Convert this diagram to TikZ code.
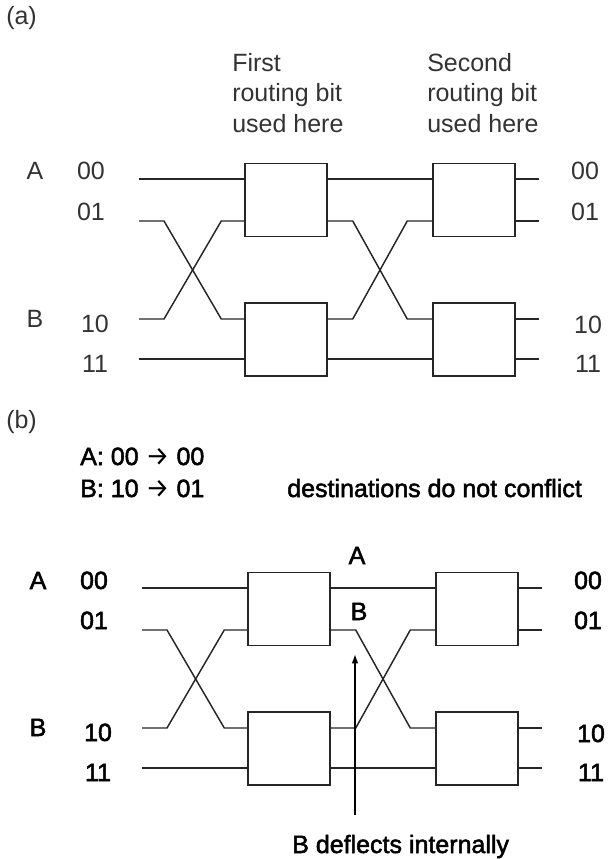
\documentclass[tikz,border=0pt]{standalone}
\usepackage{fontspec}
\setmainfont{Liberation Sans}
\newfontfamily\heavyfam[FakeBold=2]{Liberation Sans}
\newfontfamily\arrowfam{Fira Sans}
\usetikzlibrary{arrows.meta,calc}
\newcommand\lightfont{\fontsize{18.75}{22}\selectfont\color{black!80}}
\newcommand\heavyfont{\heavyfam\fontsize{18.75}{22}\selectfont}
\newcommand\rarr{{\arrowfam\fontsize{20}{22}\selectfont →}}
% #1 name prefix, #2 shift, #3 font
\newcommand\netdraw[3]{%
\begin{scope}[shift={#2}]
  \node[swbox] (#1s1) at (286,200) {};
  \node[swbox] (#1s2) at (286,339.5) {};
  \node[swbox] (#1s3) at (474,200) {};
  \node[swbox] (#1s4) at (474,339.5) {};
  \coordinate (#1i0) at (139,179);
  \coordinate (#1i1) at (139,221);
  \coordinate (#1i2) at (139,319);
  \coordinate (#1i3) at (139,359);
  \coordinate (#1o0) at (539,179);
  \coordinate (#1o1) at (539,221);
  \coordinate (#1o2) at (539,319);
  \coordinate (#1o3) at (539,359);
  % stage 1 inputs
  \draw[wire] (#1i0) -- (#1s1.west |- #1i0);
  \draw[wire] (#1i1) -- ++(25,0) -- ($(#1s2.west |- #1i2)+(-23,0)$) -- (#1s2.west |- #1i2);
  \draw[wire] (#1i2) -- ++(25,0) -- ($(#1s1.west |- #1i1)+(-23,0)$) -- (#1s1.west |- #1i1);
  \draw[wire] (#1i3) -- (#1s2.west |- #1i3);
  % between stages
  \draw[wire] (#1s1.east |- #1i0) -- (#1s3.west |- #1i0);
  \draw[wire] (#1s1.east |- #1i1) -- ++(25,0) -- ($(#1s4.west |- #1i2)+(-25,0)$) -- (#1s4.west |- #1i2);
  \draw[wire] (#1s2.east |- #1i2) -- ++(25,0) -- ($(#1s3.west |- #1i1)+(-25,0)$) -- (#1s3.west |- #1i1);
  \draw[wire] (#1s2.east |- #1i3) -- (#1s4.west |- #1i3);
  % outputs
  \draw[wire] (#1s3.east |- #1o0) -- (#1o0);
  \draw[wire] (#1s3.east |- #1o1) -- (#1o1);
  \draw[wire] (#1s4.east |- #1o2) -- (#1o2);
  \draw[wire] (#1s4.east |- #1o3) -- (#1o3);
  % labels
  \node[txt,anchor=base,font=#3] (#1lA) at (35,180) {A};
  \node[txt,anchor=base,font=#3] (#1lB) at (35,327) {B};
  \node[txt,anchor=base,font=#3] (#1l00) at (91,180) {00};
  \node[txt,anchor=base,font=#3] (#1l01) at (91,220) {01};
  \node[txt,anchor=base,font=#3] (#1l10) at (95,332) {10};
  \node[txt,anchor=base,font=#3] (#1l11) at (95,372) {11};
  \node[txt,anchor=base,font=#3] (#1r00) at (585,180) {00};
  \node[txt,anchor=base,font=#3] (#1r01) at (585,220) {01};
  \node[txt,anchor=base,font=#3] (#1r10) at (588,333) {10};
  \node[txt,anchor=base,font=#3] (#1r11) at (588,372) {11};
\end{scope}}
\begin{document}
\begin{tikzpicture}[x=0.75pt,y=-0.75pt,
  wire/.style={line width=1.1pt,draw=black!85},
  swbox/.style={draw=black!85,line width=1.1pt,minimum width=61.5pt,minimum height=55pt,inner sep=0pt},
  txt/.style={inner sep=0pt}]
\useasboundingbox[fill=white] (0,0) rectangle (611,859);

% ---------- (a) ----------
\node[txt,anchor=base west,font=\lightfont] (capa) at (6,25) {(a)};
\node[txt,anchor=base west,font=\lightfont] (h1a) at (232,72) {First};
\node[txt,anchor=base west,font=\lightfont] (h1b) at (232,102) {routing bit};
\node[txt,anchor=base west,font=\lightfont] (h1c) at (232,133) {used here};
\node[txt,anchor=base west,font=\lightfont] (h2a) at (427,72) {Second};
\node[txt,anchor=base west,font=\lightfont] (h2b) at (427,102) {routing bit};
\node[txt,anchor=base west,font=\lightfont] (h2c) at (427,133) {used here};
\netdraw{a}{(0,0)}{\lightfont}

% ---------- (b) ----------
\node[txt,anchor=base west,font=\lightfont] (capb) at (6,428) {(b)};
\node[txt,anchor=base west,font=\heavyfont] (ra) at (80,465) {A: 00 \rarr\ 00};
\node[txt,anchor=base west,font=\heavyfont] (rb) at (80,497) {B: 10 \rarr\ 01};
\node[txt,anchor=base west,font=\heavyfont] (nc) at (287,497) {destinations do not conflict};
\netdraw{b}{(3,409)}{\heavyfont}
\node[txt,anchor=base,font=\heavyfont] (pa) at (357,564) {A};
\node[txt,anchor=base,font=\heavyfont] (pb) at (359,620) {B};
\node[txt,anchor=base west,font=\heavyfont] (defl) at (292,853) {B deflects internally};
\coordinate (afoot) at (355,815);
\coordinate (atip) at (355,654);
\draw[line width=1.1pt,-{Latex[length=7pt,width=5pt]}] (afoot) -- (atip);
\end{tikzpicture}
\end{document}
